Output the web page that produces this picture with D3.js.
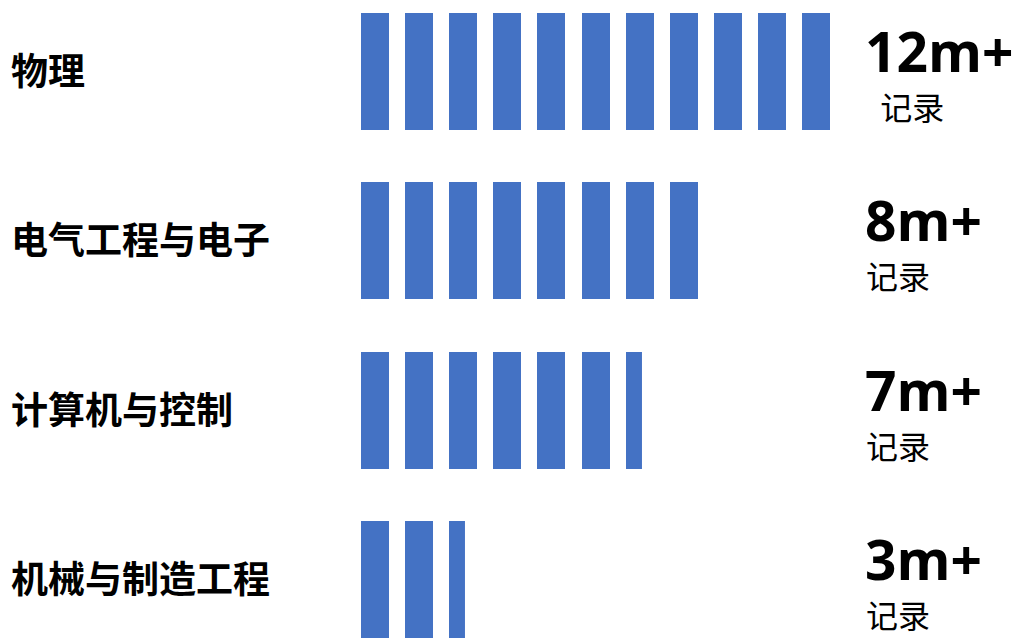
<!DOCTYPE html>
<html>
<head>
<meta charset="utf-8">
<script src="https://cdn.jsdelivr.net/npm/d3@7"></script>
<style>
  body { margin: 0; background: #fff; }
</style>
</head>
<body>
<div id="chart"></div>
<script>
// categories, values (in bar units) and the text on the right
var categories = ["物理", "电气工程与电子", "计算机与控制", "机械与制造工程"];
var values = [11, 8, 6.57, 2.57];
var valueLabels = ["12m+", "8m+", "7m+", "3m+"];
var subLabels = ["  记录", "记录", "记录", "记录"];

var svgWidth = 1017;
var svgHeight = 638;

var svg = d3.select("#chart")
  .append("svg")
  .attr("width", svgWidth)
  .attr("height", svgHeight);

// rows: last row starts at 521 and is 117 tall
var yScale = d3.scaleBand()
  .domain(categories)
  .range([13, 638])
  .paddingInner((169.33 - 117) / 169.33)
  .paddingOuter(0);

// one unit = one bar slot
var xScale = d3.scaleLinear().domain([0, 1]).range([361, 405.1]);
var barW = 28;

var rows = svg.selectAll(".row")
  .data(categories)
  .enter()
  .append("g")
  .attr("class", "row")
  .attr("transform", function(d) { return "translate(0," + Math.round(yScale(d)) + ")"; });

rows.each(function(cat, i) {
  var v = values[i];
  var units = d3.range(Math.ceil(v)).map(function(k) {
    return { k: k, frac: Math.min(1, v - k) };
  });
  d3.select(this).selectAll("rect")
    .data(units)
    .enter()
    .append("rect")
    .attr("x", function(u) { return Math.round(xScale(u.k)); })
    .attr("y", 0)
    .attr("width", function(u) { return barW * u.frac; })
    .attr("height", yScale.bandwidth())
    .attr("fill", "#4472c4");
});

// category labels
rows.append("text")
  .attr("x", 11)
  .attr("y", yScale.bandwidth() / 2)
  .attr("dy", "0.36em")
  .style("font-family", "'Noto Sans CJK SC', sans-serif")
  .style("font-weight", "bold")
  .style("font-size", "37px")
  .style("fill", "#000")
  .text(function(d) { return d; });

// big value labels
rows.append("text")
  .attr("x", 865)
  .attr("y", 59)
  .style("font-family", "'Open Sans', sans-serif")
  .style("font-weight", "bold")
  .style("font-size", "55px")
  .style("fill", "#000")
  .text(function(d, i) { return valueLabels[i]; });

rows.append("text")
  .attr("x", 866)
  .attr("y", 107)
  .style("font-family", "'Noto Sans CJK SC', sans-serif")
  .style("font-size", "32px")
  .style("white-space", "pre")
  .style("fill", "#000")
  .text(function(d, i) { return subLabels[i]; });
</script>
</body>
</html>
